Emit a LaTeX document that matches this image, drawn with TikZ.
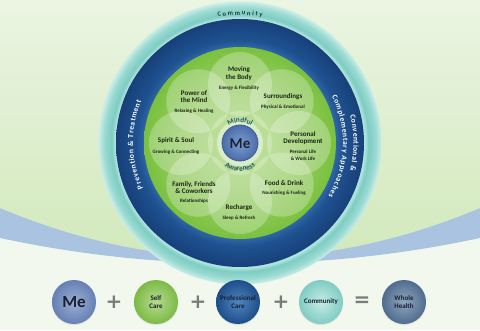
\documentclass[tikz,border=0pt]{standalone}
\usepackage{fontspec}
\setmainfont{Carlito}
\newfontfamily\opfont{DejaVu Sans}
\usetikzlibrary{decorations.text,shadows}
\definecolor{bgtop}{HTML}{EBF5E3}
\definecolor{bgmid}{HTML}{D0E8B9}
\definecolor{bglow}{HTML}{F3F8EE}
\definecolor{swoosh}{HTML}{A9C3E0}
\definecolor{tealA}{HTML}{AEE3DC}
\definecolor{tealB}{HTML}{7DCCC3}
\definecolor{tealM}{HTML}{9ADAD2}
\definecolor{tealC}{HTML}{CBEEE8}
\definecolor{blueA}{HTML}{2F66A6}
\definecolor{blueB}{HTML}{1F5291}
\definecolor{blueC}{HTML}{17407A}
\definecolor{grnA}{HTML}{B4DA8E}
\definecolor{grnM}{HTML}{98CD66}
\definecolor{grnB}{HTML}{7AC13F}
\definecolor{textdark}{HTML}{1C2418}
\definecolor{mindcol}{HTML}{1B5567}
\definecolor{commcol}{HTML}{1D3B3A}
\definecolor{plusgray}{HTML}{7B7B7B}
\definecolor{meA}{HTML}{9BB0D6}
\definecolor{meB}{HTML}{6780B3}
\definecolor{selfA}{HTML}{B6DB90}
\definecolor{selfB}{HTML}{7DBA45}
\definecolor{profA}{HTML}{4F86C0}
\definecolor{profB}{HTML}{1E4D8A}
\definecolor{commA}{HTML}{C4EBE5}
\definecolor{commB}{HTML}{80CCC3}
\definecolor{wholeA}{HTML}{8FA6BE}
\definecolor{wholeB}{HTML}{506C8E}
\definecolor{meCA}{HTML}{7E9ED0}
\definecolor{meCB}{HTML}{4A6DAA}
\definecolor{meEdge}{HTML}{3A5B96}
\definecolor{meText}{HTML}{1A2238}
\definecolor{ballText}{HTML}{1A2030}
\pgfdeclareradialshading{tealring}{\pgfpointorigin}{color(0bp)=(tealA); color(22.1bp)=(tealA); color(22.7bp)=(tealB); color(24bp)=(tealM); color(25bp)=(tealC); color(50bp)=(tealC)}
\pgfdeclareradialshading{bluering}{\pgfpointorigin}{color(0bp)=(blueA); color(19.3bp)=(blueA); color(20.8bp)=(blueB); color(25bp)=(blueC); color(50bp)=(blueC)}
\pgfdeclareradialshading{greendisc}{\pgfpointorigin}{color(0bp)=(grnA); color(15bp)=(grnM); color(25bp)=(grnB); color(50bp)=(grnB)}
\pgfdeclareradialshading{meshade}{\pgfpointorigin}{color(0bp)=(meCA); color(25bp)=(meCB); color(50bp)=(meCB)}
\pgfdeclareradialshading{ballMe}{\pgfpointorigin}{color(0bp)=(meA); color(25bp)=(meB); color(50bp)=(meB)}
\pgfdeclareradialshading{ballSelf}{\pgfpointorigin}{color(0bp)=(selfA); color(25bp)=(selfB); color(50bp)=(selfB)}
\pgfdeclareradialshading{ballProf}{\pgfpointorigin}{color(0bp)=(profA); color(25bp)=(profB); color(50bp)=(profB)}
\pgfdeclareradialshading{ballComm}{\pgfpointorigin}{color(0bp)=(commA); color(25bp)=(commB); color(50bp)=(commB)}
\pgfdeclareradialshading{ballWhole}{\pgfpointorigin}{color(0bp)=(wholeA); color(25bp)=(wholeB); color(50bp)=(wholeB)}
\begin{document}
\begin{tikzpicture}[x=1pt,y=1pt,
  title/.style={font=\fontsize{7}{7.3}\selectfont\bfseries, text=textdark, align=center, inner sep=0pt},
  sub/.style={font=\fontsize{5}{7}\selectfont\bfseries, text=textdark, align=center, inner sep=0pt},
  petal/.style={fill=white, fill opacity=0.26, draw=none},
  ballnode/.style={circle, minimum size=44pt, inner sep=0pt, align=center, shade,
     font=\fontsize{7}{7.8}\selectfont\bfseries, text=ballText,
     drop shadow={opacity=0.18, shadow xshift=0pt, shadow yshift=-1.2pt}},
  opsign/.style={font=\opfont\fontsize{20}{20}\selectfont\bfseries, text=plusgray, inner sep=0pt},
]
\useasboundingbox (0,0) rectangle (480,330);
\clip (0,0) rectangle (480,330);
% background
\fill[bglow] (0,0) rectangle (480,330);
\fill[swoosh] (0,92) .. controls (160,57.9) and (320,57.9) .. (480,92) -- (480,330) -- (0,330) -- cycle;
\shade[top color=bgtop, bottom color=bgmid] (0,122) .. controls (160,55.1) and (320,55.1) .. (480,122) -- (480,330) -- (0,330) -- cycle;
% rings
\coordinate (C) at (240,187);
\shade[shading=tealring] (C) circle[radius=141.5];
\shade[shading=bluering] (C) circle[radius=124];
\shade[shading=greendisc] (C) circle[radius=96];
\foreach \a in {90,45,...,-225} \fill[petal] (C) ++(\a:59) circle[radius=32];
\fill[white, opacity=0.22] (C) circle[radius=32];
\fill[white, opacity=0.45] (C) circle[radius=23];
\shade[shading=meshade] (C) circle[radius=18];
\draw[meEdge, line width=0.8pt] (C) circle[radius=18];
\node[font=\fontsize{15}{15}\selectfont\bfseries, text=meText, inner sep=0pt] (me) at (240,186) {Me};
% ring texts
\path[decorate, decoration={text along path, text align={fit to path}, text color=commcol,
  text={|\fontsize{6.5}{7}\selectfont\bfseries|Community}}]
  (C) ++(100:128) arc[start angle=100, end angle=80, radius=128];
\path[decorate, decoration={text along path, text align={fit to path}, text color=white,
  text={|\fontsize{7.6}{8}\selectfont\bfseries|Prevention {\&} Treatment}}]
  (C) ++(205:107) arc[start angle=205, end angle=157, radius=107];
\path[decorate, decoration={text along path, text align={fit to path}, text color=white,
  text={|\fontsize{7.6}{8}\selectfont\bfseries|Conventional {\&}}}]
  (C) ++(14:113.5) arc[start angle=14, end angle=-14, radius=113.5];
\path[decorate, decoration={text along path, text align={fit to path}, text color=white,
  text={|\fontsize{7.6}{8}\selectfont\bfseries|Complementary Approaches}}]
  (C) ++(27:103) arc[start angle=27, end angle=-31, radius=103];
\path[decorate, decoration={text along path, text align=center, text color=mindcol,
  text={|\fontsize{7.2}{8}\selectfont\bfseries|Mindful}}]
  (C) ++(150:20.5) arc[start angle=150, end angle=30, radius=20.5];
\path[decorate, decoration={text along path, text align=center, text color=mindcol,
  text={|\fontsize{7.2}{8}\selectfont\bfseries|Awareness}}]
  (C) ++(200:28) arc[start angle=200, end angle=340, radius=28];
% petal labels
\node[title] (mvT) at (239,256.5) {Moving\\the Body};
\node[sub]   (mvS) at (239,242) {Energy \& Flexibility};
\node[title] (srT) at (283,233) {Surroundings};
\node[sub]   (srS) at (283,223) {Physical \& Emotional};
\node[title] (pmT) at (194,233.5) {Power of\\the Mind};
\node[sub]   (pmS) at (194,219) {Relaxing \& Healing};
\node[title] (ssT) at (176,189) {Spirit \& Soul};
\node[sub]   (ssS) at (176,178) {Growing \& Connecting};
\node[title] (pdT) at (303,192) {Personal\\Development};
\node[sub]   (pdS) at (303,174.5) {Personal Life\\\& Work Life};
\node[title] (fdT) at (284,147) {Food \& Drink};
\node[sub]   (fdS) at (284,137) {Nourishing \& Fueling};
\node[title] (rcT) at (239,122) {Recharge};
\node[sub]   (rcS) at (239,112) {Sleep \& Refresh};
\node[title] (ffT) at (194,142.5) {Family, Friends\\\& Coworkers};
\node[sub]   (ffS) at (194,129) {Relationships};
% equation row
\node[ballnode, shading=ballMe, font=\fontsize{17}{17}\selectfont\bfseries] (bMe) at (74,28) {Me};
\node[opsign] (p1) at (114,28) {+};
\node[ballnode, shading=ballSelf] (bSelf) at (156,28) {Self\\Care};
\node[opsign] (p2) at (198,28) {+};
\node[ballnode, shading=ballProf] (bProf) at (238,28) {Professional\\Care};
\node[opsign] (p3) at (281,28) {+};
\node[ballnode, shading=ballComm] (bComm) at (321,28) {Community};
\node[opsign] (eq) at (362,28) {=};
\node[ballnode, shading=ballWhole] (bWhole) at (404,28) {Whole\\Health};
\end{tikzpicture}
\end{document}
